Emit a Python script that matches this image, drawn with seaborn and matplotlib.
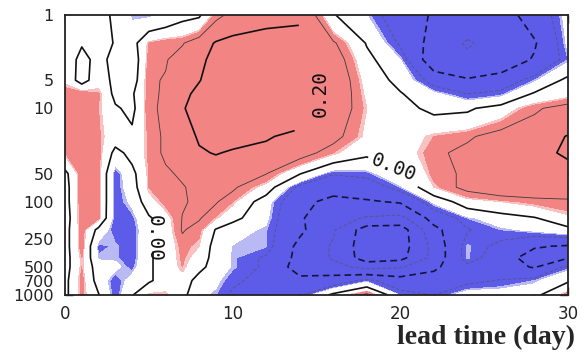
import numpy as np
import matplotlib
matplotlib.use("Agg")
import matplotlib.pyplot as plt
from matplotlib.ticker import FixedLocator, NullFormatter
import seaborn as sns

# grid: lead time (day) x pressure level (hPa)
lead_days = [0, 1, 2, 3, 4, 5, 6, 7, 8, 9, 10, 12, 14, 16, 18, 20, 22, 24, 26, 28, 30]
pressure_levels = [1, 2, 3, 5, 7, 10, 20, 30, 50, 70, 100, 150, 200, 300, 400, 500, 700, 1000]

corr_p1 = [0.02, 0.03, 0.04, -0.02, -0.065, -0.07, -0.05, -0.02, -0.01, 0.08, 0.12, 0.16, 0.18, 0.005, -0.06, -0.15, -0.21, -0.25, -0.24, -0.16, -0.04]
corr_p2 = [0.02, 0.005, 0.03, -0.005, -0.03, 0.07, 0.09, 0.095, 0.14, 0.21, 0.24, 0.26, 0.25, 0.11, -0.005, -0.11, -0.24, -0.31, -0.26, -0.21, -0.05]
corr_p3 = [0.04, -0.02, 0.02, -0.02, -0.05, 0.08, 0.095, 0.13, 0.17, 0.24, 0.27, 0.29, 0.27, 0.14, 0.02, -0.06, -0.27, -0.28, -0.27, -0.19, -0.07]
corr_p5 = [0.05, -0.03, 0.04, -0.02, -0.04, 0.09, 0.105, 0.15, 0.195, 0.25, 0.28, 0.29, 0.28, 0.16, 0.04, -0.02, -0.13, -0.19, -0.15, -0.07, 0.02]
corr_p7 = [0.09, 0.09, 0.075, -0.02, -0.01, 0.085, 0.11, 0.17, 0.23, 0.27, 0.28, 0.29, 0.26, 0.16, 0.05, 0.005, -0.05, -0.1, -0.08, 0.01, 0.04]
corr_p10 = [0.09, 0.09, 0.07, 0.01, -0.02, 0.09, 0.11, 0.19, 0.25, 0.27, 0.28, 0.28, 0.26, 0.15, 0.06, 0.02, -0.015, -0.01, 0.03, 0.09, 0.13]
corr_p20 = [0.09, 0.09, 0.075, 0.03, 0.02, 0.075, 0.11, 0.16, 0.21, 0.23, 0.23, 0.21, 0.17, 0.12, 0.05, 0.03, 0.07, 0.09, 0.13, 0.15, 0.205]
corr_p30 = [0.07, 0.09, 0.08, -0.02, 0.02, 0.075, 0.11, 0.15, 0.19, 0.205, 0.19, 0.17, 0.13, 0.07, 0.015, 0.035, 0.085, 0.12, 0.15, 0.17, 0.215]
corr_p50 = [-0.02, 0.09, 0.08, -0.09, -0.02, 0.07, 0.09, 0.11, 0.13, 0.14, 0.13, 0.102, 0.005, -0.095, -0.08, -0.01, 0.08, 0.11, 0.15, 0.16, 0.16]
corr_p70 = [-0.03, 0.09, 0.08, -0.09, -0.03, 0.07, 0.09, 0.095, 0.12, 0.12, 0.11, 0.04, -0.12, -0.16, -0.15, -0.07, 0.06, 0.12, 0.15, 0.15, 0.14]
corr_p100 = [-0.03, 0.09, 0.08, -0.09, -0.05, 0.04, 0.08, 0.095, 0.11, 0.105, 0.07, -0.04, -0.17, -0.23, -0.21, -0.19, -0.05, 0.04, 0.06, 0.08, 0.09]
corr_p150 = [-0.04, 0.09, 0.075, -0.09, -0.08, -0.01, 0.04, 0.102, 0.105, 0.065, 0.02, -0.05, -0.19, -0.26, -0.31, -0.33, -0.16, -0.07, -0.03, -0.005, 0.05]
corr_p200 = [-0.03, 0.085, -0.02, -0.09, -0.09, -0.02, 0.03, 0.105, 0.08, -0.005, -0.04, -0.068, -0.18, -0.29, -0.45, -0.45, -0.23, -0.105, -0.07, -0.05, -0.02]
corr_p300 = [-0.03, 0.085, -0.08, -0.065, -0.09, -0.01, 0.03, 0.08, 0.06, -0.03, -0.062, -0.068, -0.23, -0.31, -0.46, -0.45, -0.27, -0.065, -0.12, -0.19, -0.21]
corr_p400 = [-0.03, 0.07, -0.065, -0.065, -0.09, -0.01, 0.03, 0.075, 0.04, -0.03, -0.065, -0.11, -0.23, -0.31, -0.45, -0.43, -0.27, -0.065, -0.15, -0.25, -0.205]
corr_p500 = [-0.03, 0.07, -0.04, -0.05, -0.08, -0.01, 0.03, 0.07, 0.02, -0.03, -0.065, -0.11, -0.25, -0.27, -0.33, -0.31, -0.22, -0.12, -0.15, -0.21, -0.08]
corr_p700 = [-0.02, 0.08, -0.03, -0.09, -0.04, -0.01, 0.03, 0.04, -0.03, -0.05, -0.09, -0.12, -0.17, -0.15, -0.08, -0.15, -0.15, -0.12, -0.095, -0.07, -0.01]
corr_p1000 = [-0.02, 0.08, 0.005, -0.09, -0.005, 0.07, 0.07, 0.02, -0.05, -0.07, -0.11, -0.12, -0.11, 0.02, 0.12, -0.07, -0.1, -0.03, -0.03, -0.02, 0.09]

y_tick_values = [1, 5, 10, 50, 100, 250, 500, 700, 1000]
y_tick_labels = ["1", "5", "10", "50", "100", "250", "500", "700", "1000"]
y_minor_values = [2, 3, 7, 20, 30, 70, 150, 200, 300, 400, 600, 850, 925]
x_tick_values = [0, 10, 20, 30]

# where the contour labels sit, and how they are turned in the original
label_spots = [(5.2, 250), (19.6, 40), (15.2, 6)]
label_turns = [-90, -22, 90]


def line_style(lev):
    thick = int(round(lev * 10)) % 2 == 0
    width = 1.2 if thick else 0.6
    if lev < 0:
        return width, ("#15153a" if thick else "#55557a"), (0, (4, 2.5))
    return width, ("#111111" if thick else "#3a3a3a"), "solid"


def main():
    sns.set_style("white")
    plt.rcParams["font.family"] = ["DejaVu Sans"]

    field = np.array([corr_p1, corr_p2, corr_p3, corr_p5, corr_p7, corr_p10,
                      corr_p20, corr_p30, corr_p50, corr_p70, corr_p100,
                      corr_p150, corr_p200, corr_p300, corr_p400, corr_p500,
                      corr_p700, corr_p1000])

    fig = plt.figure(figsize=(5.82, 3.52), dpi=100)
    ax = fig.add_axes([65 / 582, 1 - 295 / 352, 503 / 582, 280 / 352])

    # shading: strong / weak negative, none, weak / strong positive
    shade_levels = [-1.0, -0.07, -0.06, 0.06, 0.07, 1.0]
    shade_colors = ["#5c5ce8", "#b9b9f4", "#ffffff", "#f8c2c2", "#f28484"]
    ax.contourf(lead_days, pressure_levels, field, levels=shade_levels,
                colors=shade_colors)

    # unlabelled contour lines
    plain_levels = [-0.4, -0.3, -0.2, -0.1, 0.1]
    styles = [line_style(lev) for lev in plain_levels]
    ax.contour(lead_days, pressure_levels, field, levels=plain_levels,
               linewidths=[s[0] for s in styles], colors=[s[1] for s in styles],
               linestyles=[s[2] for s in styles])

    # labelled contour lines (0.00 and 0.20)
    label_levels = [0.0, 0.2]
    styles = [line_style(lev) for lev in label_levels]
    cs = ax.contour(lead_days, pressure_levels, field, levels=label_levels,
                    linewidths=[s[0] for s in styles], colors=[s[1] for s in styles],
                    linestyles=[s[2] for s in styles])
    labels = ax.clabel(cs, fmt="%.2f", fontsize=14, inline=True,
                       inline_spacing=4, manual=label_spots)
    for txt in labels:
        txt.set_family("DejaVu Sans Mono")
        x, _ = txt.get_position()
        nearest = min(range(len(label_spots)),
                      key=lambda i: abs(label_spots[i][0] - x))
        txt.set_rotation(label_turns[nearest])

    ax.set_yscale("log")
    ax.set_ylim(1000, 1)
    ax.set_xlim(0, 30)
    ax.set_yticks(y_tick_values)
    ax.set_yticklabels(y_tick_labels)
    ax.yaxis.set_minor_locator(FixedLocator(y_minor_values))
    ax.yaxis.set_minor_formatter(NullFormatter())
    ax.set_xticks(x_tick_values)
    ax.xaxis.set_minor_locator(FixedLocator([d for d in range(0, 31, 2) if d % 10]))
    ax.tick_params(which="both", direction="in", length=6, width=1,
                   left=True, right=True, top=True, bottom=True, colors="#222222")
    ax.tick_params(axis="y", which="major", labelsize=11.5, pad=8)
    ax.tick_params(axis="x", which="major", labelsize=12, pad=7)
    for side in ax.spines.values():
        side.set_linewidth(1.3)
        side.set_color("#222222")

    fig.text(0.988, 0.006, "lead time (day)", ha="right", va="bottom",
             fontsize=20, fontweight="bold", family=["Liberation Serif"])

    fig.savefig("out.png", dpi=100)
    plt.close(fig)


if __name__ == "__main__":
    main()
